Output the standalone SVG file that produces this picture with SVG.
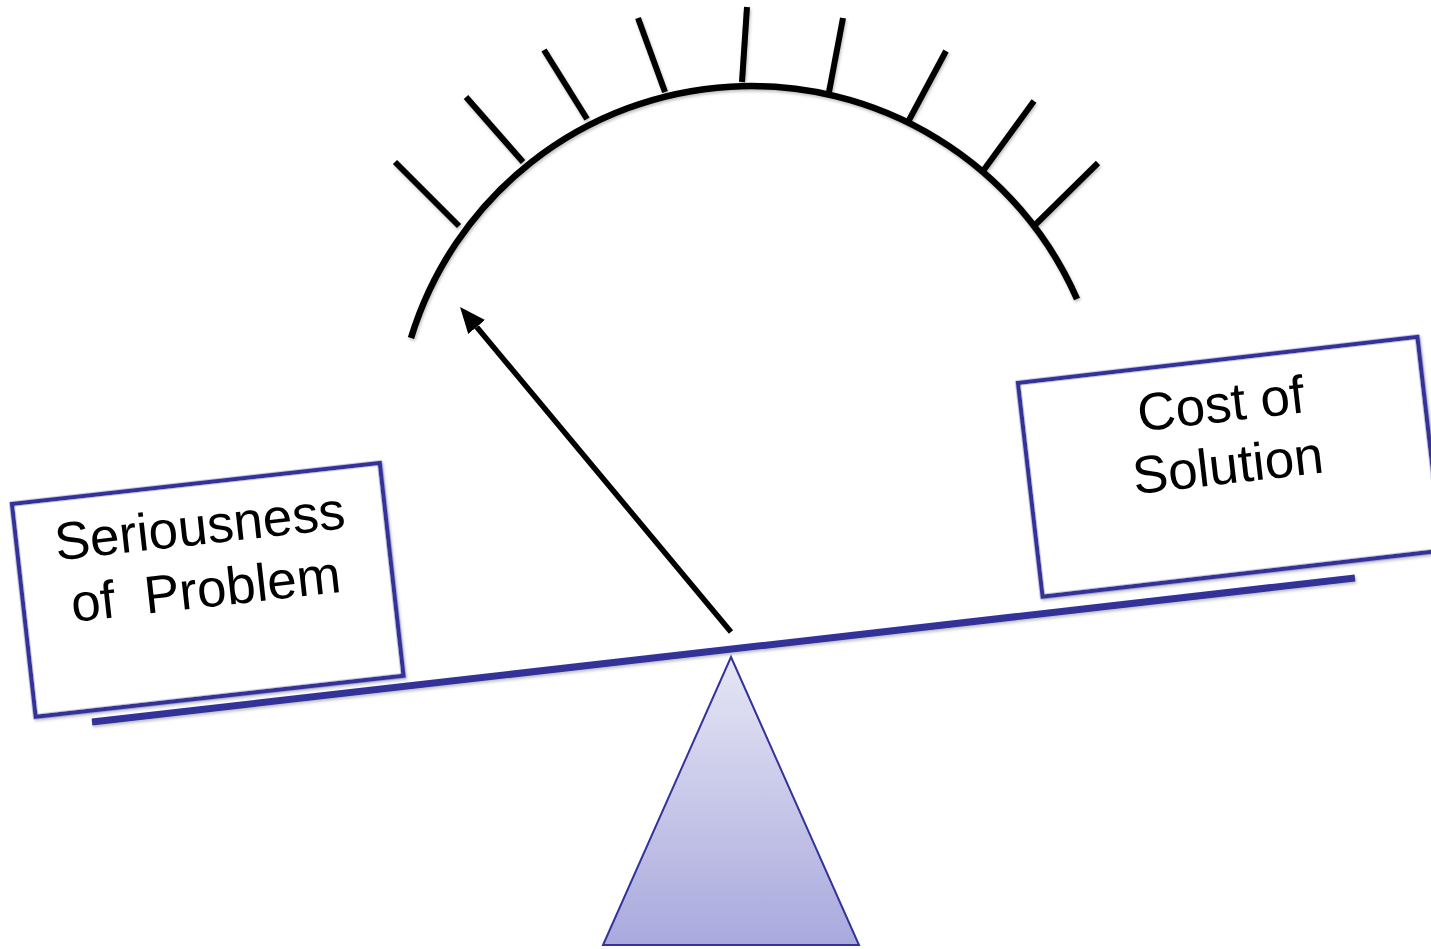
<svg xmlns="http://www.w3.org/2000/svg" width="1431" height="949" viewBox="0 0 1431 949">
  <style>
    .frame { fill: #ffffff; stroke: #333399; stroke-width: 4.5; }
    .label { font-family: "Liberation Sans", Arial, sans-serif; font-size: 53px; fill: #000000; text-anchor: middle; }
    .tick { stroke: #000000; stroke-width: 6; fill: none; }
    .dial { stroke: #000000; stroke-width: 6.5; fill: none; }
    .beam { stroke: #333399; stroke-width: 7; fill: none; }
  </style>
  <defs>
    <linearGradient id="fulcrumFill" x1="0" y1="0" x2="0" y2="1">
      <stop offset="0" stop-color="#e6e6f5"/>
      <stop offset="1" stop-color="#a9a9de"/>
    </linearGradient>
    <filter id="softShadow" x="-5%" y="-5%" width="110%" height="115%">
      <feDropShadow dx="1" dy="2" stdDeviation="1.5" flood-color="#000000" flood-opacity="0.25"/>
    </filter>
    <marker id="arrowHead" markerUnits="userSpaceOnUse" markerWidth="26" markerHeight="22" viewBox="0 0 26 22" refX="0" refY="11" orient="auto">
      <path d="M0,0 L26,11 L0,22 z" fill="#000000"/>
    </marker>
  </defs>

  <!-- dial arc with tick marks -->
  <g id="gauge" filter="url(#softShadow)">
    <path class="dial" d="M 411 338 A 355.7 355.7 0 0 1 1077 299"/>
    <line class="tick" x1="395" y1="162" x2="459" y2="226"/>
    <line class="tick" x1="466" y1="97" x2="523" y2="162"/>
    <line class="tick" x1="544" y1="50" x2="587" y2="119"/>
    <line class="tick" x1="638" y1="18" x2="665" y2="92"/>
    <line class="tick" x1="747" y1="7" x2="742" y2="82"/>
    <line class="tick" x1="843" y1="18" x2="829" y2="92"/>
    <line class="tick" x1="946" y1="51" x2="908" y2="122"/>
    <line class="tick" x1="1034" y1="101" x2="983" y2="171"/>
    <line class="tick" x1="1098" y1="163" x2="1035" y2="225"/>
  </g>

  <!-- fulcrum -->
  <g id="fulcrum">
    <polygon points="731,657 859,945 603,945" fill="url(#fulcrumFill)" stroke="#333399" stroke-width="2"/>
  </g>

  <!-- left weight -->
  <g id="seriousness" transform="translate(12,504) rotate(-6.36)">
    <rect class="frame" x="0" y="0" width="370" height="214" filter="url(#softShadow)"/>
    <text class="label" x="184" y="61">Seriousness</text>
    <text class="label" x="183" y="124" xml:space="preserve">of  Problem</text>
  </g>

  <!-- right weight -->
  <g id="cost" transform="translate(1018,383) rotate(-6.58)">
    <rect class="frame" x="0" y="0" width="402" height="215" filter="url(#softShadow)"/>
    <text class="label" x="199" y="62">Cost of</text>
    <text class="label" x="199" y="124">Solution</text>
  </g>

  <!-- seesaw plank -->
  <g id="beam" filter="url(#softShadow)">
    <line class="beam" x1="92" y1="722" x2="1355" y2="578"/>
  </g>

  <!-- pointer needle -->
  <g id="connectors">
    <line x1="731" y1="632" x2="476.7" y2="327" stroke="#000000" stroke-width="5.5" marker-end="url(#arrowHead)"/>
  </g>
</svg>
